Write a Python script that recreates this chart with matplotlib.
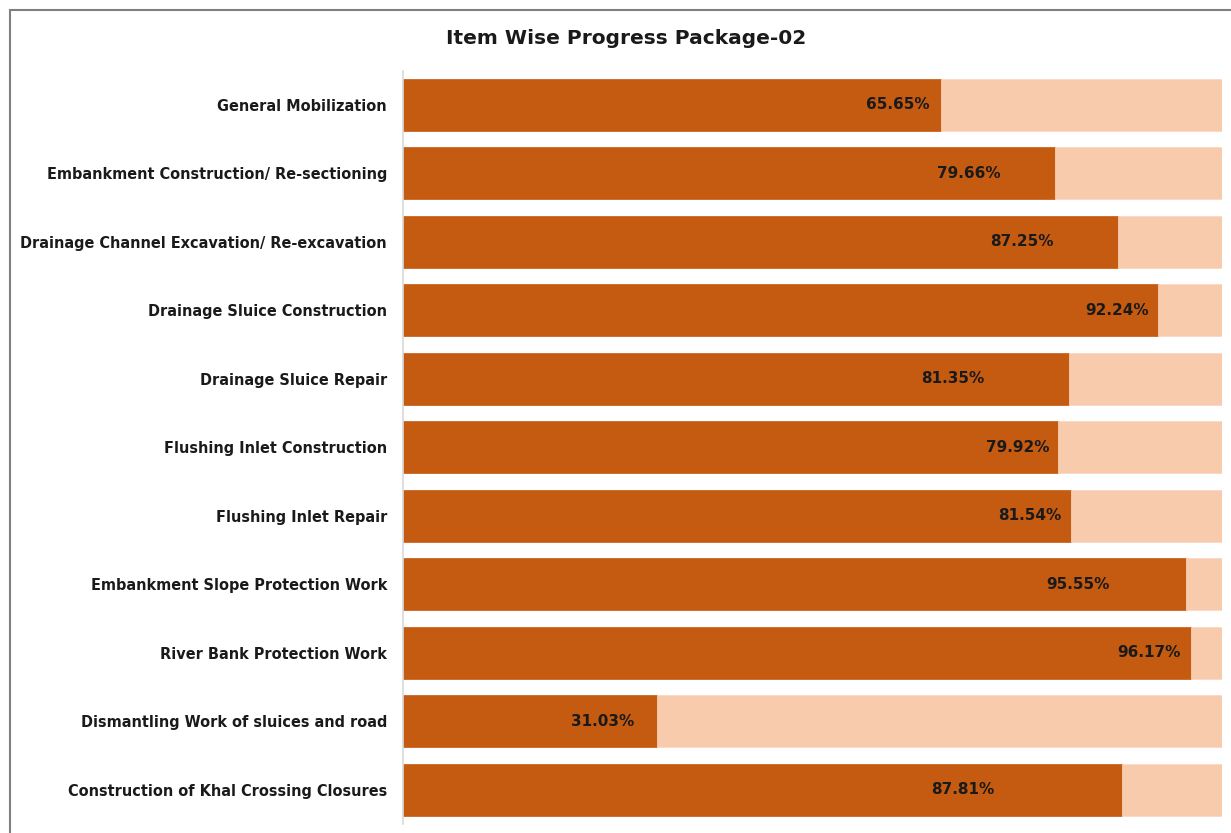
import matplotlib
matplotlib.use("Agg")
import matplotlib.pyplot as plt
from matplotlib.patches import Rectangle

categories = [
    "General Mobilization",
    "Embankment Construction/ Re-sectioning",
    "Drainage Channel Excavation/ Re-excavation",
    "Drainage Sluice Construction",
    "Drainage Sluice Repair",
    "Flushing Inlet Construction",
    "Flushing Inlet Repair",
    "Embankment Slope Protection Work",
    "River Bank Protection Work",
    "Dismantling Work of sluices and road",
    "Construction of Khal Crossing Closures",
]
progress = [65.65, 79.66, 87.25, 92.24, 81.35, 79.92, 81.54, 95.55, 96.17, 31.03, 87.81]
total = [100] * len(progress)
# label offsets (from bar end, data units) as placed in the original
label_offset = [-5.2, -10.6, -11.7, -5.0, -14.2, -4.9, -5.0, -13.1, -5.1, -6.7, -19.5]

plt.rcParams['font.family'] = ['DejaVu Sans']

W, H = 1231, 833
fig = plt.figure(figsize=(W / 100, H / 100), dpi=100)

ax = fig.add_axes([403 / W, 1 - 824 / H, (1222 - 403) / W, (824 - 70.7) / H])

y = list(range(len(categories)))
remain = [t - p for t, p in zip(total, progress)]
ax.barh(y, progress, height=0.76, color="#C55A11", edgecolor="#C55A11", linewidth=0.5)
ax.barh(y, remain, left=progress, height=0.76, color="#F8CBAD", edgecolor="#FAD7C0", linewidth=0.5)

for yi, p, off in zip(y, progress, label_offset):
    ax.text(p + off, yi, f"{p:.2f}%", ha="center", va="center",
            fontsize=11, fontweight="bold", color="#1a1a1a")

ax.set_xlim(0, 100)
ax.set_ylim(len(categories) - 0.5, -0.5)
ax.set_yticks(y)
ax.set_yticklabels(categories, fontsize=10.45, fontweight="bold", color="#1a1a1a")
ax.tick_params(axis="y", length=0, pad=11.5)
ax.set_xticks([])
for s in ["top", "right", "bottom"]:
    ax.spines[s].set_visible(False)
ax.spines["left"].set_color("#D9D9D9")
ax.spines["left"].set_linewidth(1.2)

fig.text(626 / W, 1 - 38 / H, "Item Wise Progress Package-02", ha="center", va="center",
         fontsize=14.5, fontweight="bold", color="#1a1a1a")

fig.patches.append(Rectangle((10 / W, -0.1), 1.2, 1 - 10 / H + 0.1, transform=fig.transFigure,
                             fill=False, edgecolor="#7f7f7f", linewidth=1.5))

fig.savefig("out.png", dpi=100, facecolor="white")
